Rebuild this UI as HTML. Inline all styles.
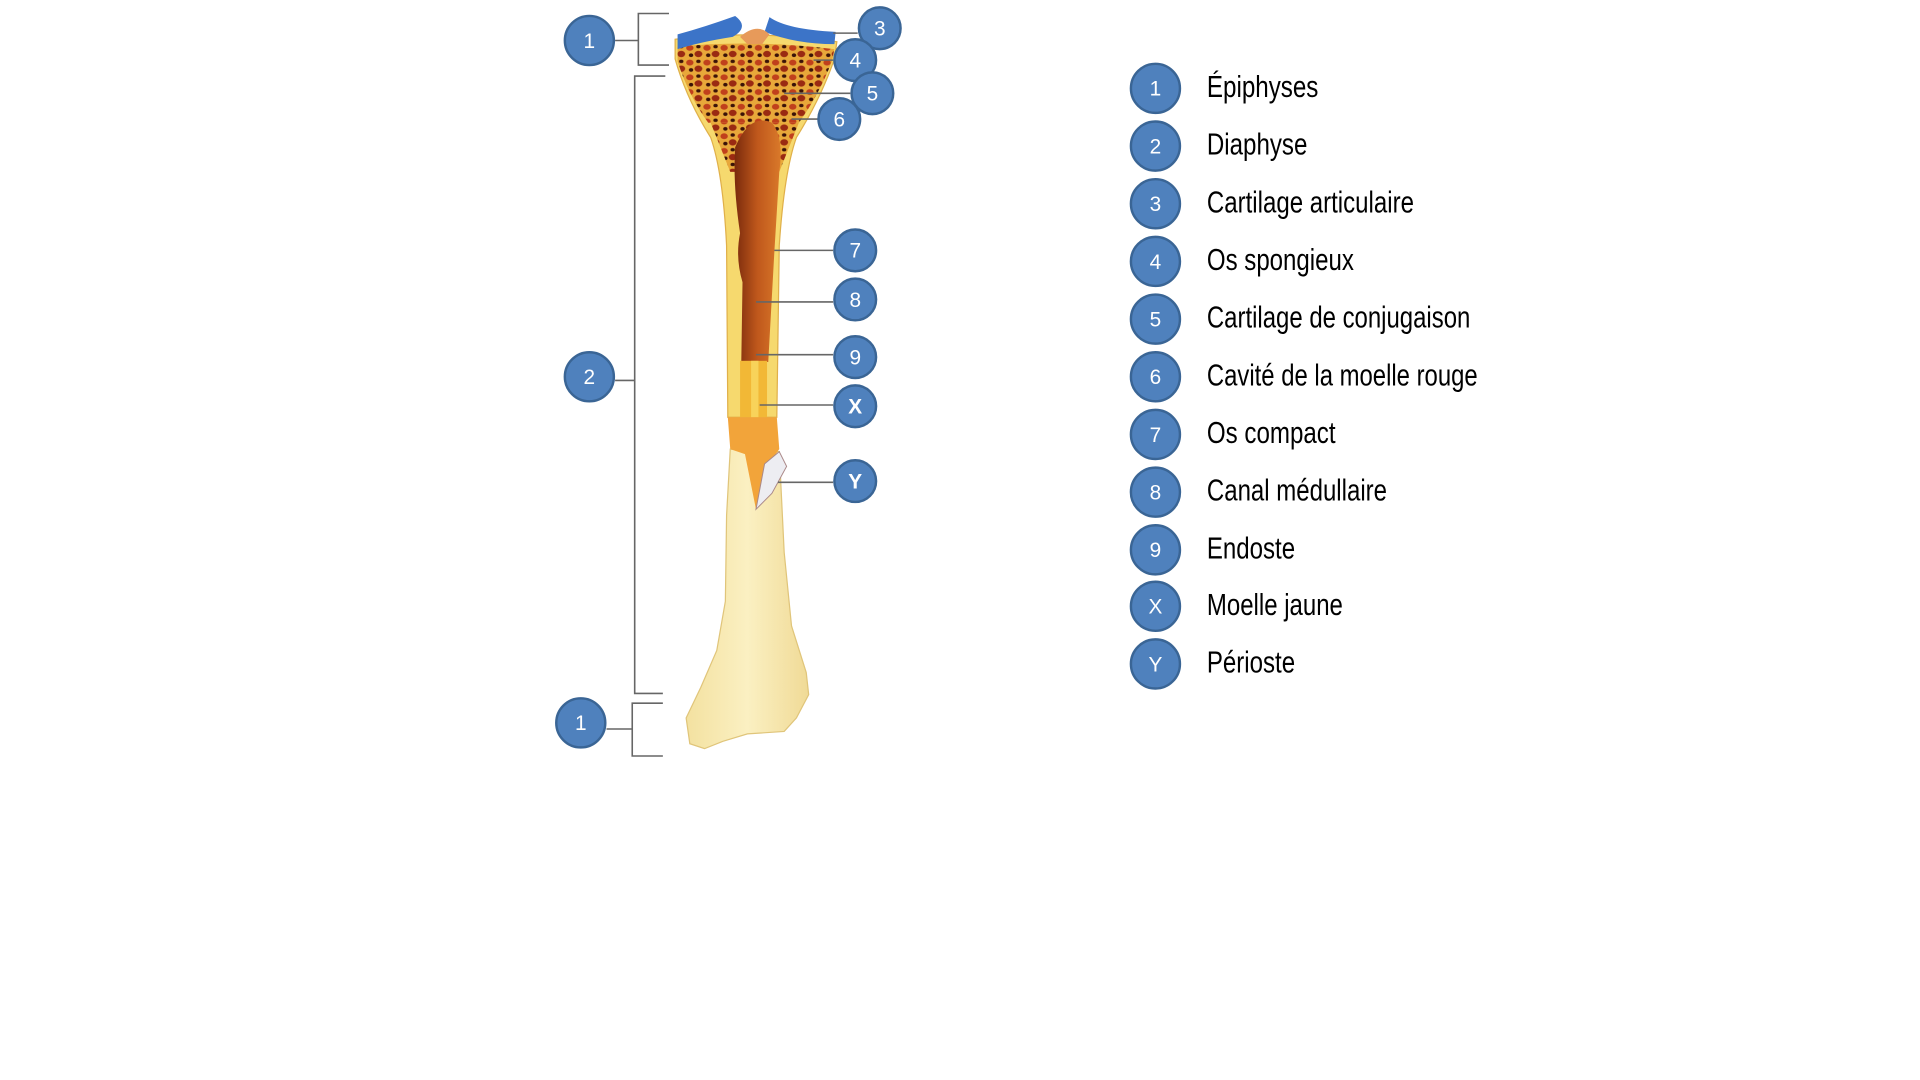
<!DOCTYPE html>
<html><head><meta charset="utf-8"><style>
html,body{margin:0;padding:0;background:#fff;width:1920px;height:1080px;overflow:hidden}
svg{display:block}
.c{fill:#4f81bd;stroke:#3a6595;stroke-width:2}
.n{fill:#fff;font-family:"Liberation Sans",sans-serif;font-size:17px;text-anchor:middle}
.l{fill:#000;font-family:"Liberation Sans",sans-serif;font-size:25px}
.ln{stroke:#666;stroke-width:1.3;fill:none}
</style></head><body>
<svg width="1920" height="1080" viewBox="0 0 1567 880" preserveAspectRatio="none" xmlns="http://www.w3.org/2000/svg">
<defs>
<pattern id="sp" width="14" height="12" patternUnits="userSpaceOnUse">
<rect width="14" height="12" fill="#e8a83a"/>
<ellipse cx="3" cy="3" rx="3" ry="2.4" fill="#c0401c"/>
<ellipse cx="10" cy="8" rx="3.2" ry="2.6" fill="#9a2a12"/>
<ellipse cx="10" cy="2" rx="1.8" ry="1.4" fill="#3a1208"/>
<ellipse cx="4" cy="9" rx="1.8" ry="1.5" fill="#3a1208"/>
</pattern>
<linearGradient id="cav" x1="0" x2="1"><stop offset="0" stop-color="#7a2a0c"/><stop offset="0.5" stop-color="#c0581c"/><stop offset="1" stop-color="#d9792a"/></linearGradient>
<linearGradient id="sh" x1="0" x2="1"><stop offset="0" stop-color="#f3e1a0"/><stop offset="0.5" stop-color="#fbf0c2"/><stop offset="1" stop-color="#f0da96"/></linearGradient>
</defs>
<path d="M596 366 L636 368 L640 450 L646 510 L658 548 L660 566 L650 585 L640 596 L610 598 L590 604 L575 610 L563 606 L560 585 L572 560 L585 530 L592 490 L593 420 Z" fill="url(#sh)" stroke="#e0c57a" stroke-width="1"/>
<path d="M551 32 Q615 24 683 34 L681 48 Q670 80 650 112 Q640 140 636 200 L634 340 L594 340 L593 200 Q590 140 580 112 Q560 80 551 48 Z" fill="#f6d96e" stroke="#e0b04a" stroke-width="1"/>
<path d="M553 38 Q615 32 681 40 L679 50 Q668 78 652 100 L578 100 Q562 78 553 50 Z" fill="url(#sp)"/>
<path d="M580 100 L652 100 Q644 120 636 140 L596 140 Q588 120 580 100Z" fill="url(#sp)"/>
<path d="M600 120 Q612 92 630 100 Q640 112 636 140 L632 205 L627 295 L605 295 L606 230 Q600 210 604 190 Q598 150 600 120 Z" fill="url(#cav)"/>
<rect x="604" y="294" width="22" height="46" fill="#f2b836"/>
<rect x="613" y="294" width="6" height="46" fill="#f8d35a"/>
<path d="M594 340 L634 340 L636 366 L626 380 L617 415 L608 370 L596 366 Z" fill="#f2a43a"/>
<path d="M617 415 L624 378 L636 368 L642 380 L630 402 Z" fill="#ededf2" stroke="#a88" stroke-width="0.8"/>
<path d="M553 28 Q575 22 600 13 Q612 22 598 30 Q572 34 553 40 Z" fill="#3c74c8"/>
<path d="M628 14 Q642 24 682 26 L681 36 Q650 36 624 26 Z" fill="#3c74c8"/>
<path d="M604 30 Q618 18 628 28 L622 36 L610 36Z" fill="#e79a5a"/>
<path class="ln" d="M546 11 H521 V53 H546 M502 33 H521"/>
<path class="ln" d="M543 62 H518 V565 H541 M502 310 H518"/>
<path class="ln" d="M541 573 H516 V616 H541 M495 594 H516"/>
<path class="ln" d="M700 27 H680 M680 49 H664 M694 76 H640 M668 97 H646 M680 204 H632 M680 246 H617 M680 289 H617 M680 330 H620 M680 393 H635"/>
<g>
<circle class="c" cx="481" cy="33" r="20"/><text class="n" x="481" y="39">1</text>
<circle class="c" cx="481" cy="307" r="20"/><text class="n" x="481" y="313">2</text>
<circle class="c" cx="474" cy="589" r="20"/><text class="n" x="474" y="595">1</text>
<circle class="c" cx="718" cy="23" r="17"/><text class="n" x="718" y="29">3</text>
<circle class="c" cx="698" cy="49" r="17"/><text class="n" x="698" y="55">4</text>
<circle class="c" cx="712" cy="76" r="17"/><text class="n" x="712" y="82">5</text>
<circle class="c" cx="685" cy="97" r="17"/><text class="n" x="685" y="103">6</text>
<circle class="c" cx="698" cy="204" r="17"/><text class="n" x="698" y="210">7</text>
<circle class="c" cx="698" cy="244" r="17"/><text class="n" x="698" y="250">8</text>
<circle class="c" cx="698" cy="291" r="17"/><text class="n" x="698" y="297">9</text>
<circle class="c" cx="698" cy="331" r="17"/><text class="n" x="698" y="337" font-weight="bold">X</text>
<circle class="c" cx="698" cy="392" r="17"/><text class="n" x="698" y="398" font-weight="bold">Y</text>
</g>
<g>
<circle class="c" cx="943" cy="72" r="20"/><text class="n" x="943" y="78">1</text><text class="l" x="985" y="79" textLength="91" lengthAdjust="spacingAndGlyphs">Épiphyses</text>
<circle class="c" cx="943" cy="119" r="20"/><text class="n" x="943" y="125">2</text><text class="l" x="985" y="126" textLength="82" lengthAdjust="spacingAndGlyphs">Diaphyse</text>
<circle class="c" cx="943" cy="166" r="20"/><text class="n" x="943" y="172">3</text><text class="l" x="985" y="173" textLength="169" lengthAdjust="spacingAndGlyphs">Cartilage articulaire</text>
<circle class="c" cx="943" cy="213" r="20"/><text class="n" x="943" y="219">4</text><text class="l" x="985" y="220" textLength="120" lengthAdjust="spacingAndGlyphs">Os spongieux</text>
<circle class="c" cx="943" cy="260" r="20"/><text class="n" x="943" y="266">5</text><text class="l" x="985" y="267" textLength="215" lengthAdjust="spacingAndGlyphs">Cartilage de conjugaison</text>
<circle class="c" cx="943" cy="307" r="20"/><text class="n" x="943" y="313">6</text><text class="l" x="985" y="314" textLength="221" lengthAdjust="spacingAndGlyphs">Cavité de la moelle rouge</text>
<circle class="c" cx="943" cy="354" r="20"/><text class="n" x="943" y="360">7</text><text class="l" x="985" y="361" textLength="105" lengthAdjust="spacingAndGlyphs">Os compact</text>
<circle class="c" cx="943" cy="401" r="20"/><text class="n" x="943" y="407">8</text><text class="l" x="985" y="408" textLength="147" lengthAdjust="spacingAndGlyphs">Canal médullaire</text>
<circle class="c" cx="943" cy="448" r="20"/><text class="n" x="943" y="454">9</text><text class="l" x="985" y="455" textLength="72" lengthAdjust="spacingAndGlyphs">Endoste</text>
<circle class="c" cx="943" cy="494" r="20"/><text class="n" x="943" y="500">X</text><text class="l" x="985" y="501" textLength="111" lengthAdjust="spacingAndGlyphs">Moelle jaune</text>
<circle class="c" cx="943" cy="541" r="20"/><text class="n" x="943" y="547">Y</text><text class="l" x="985" y="548" textLength="72" lengthAdjust="spacingAndGlyphs">Périoste</text>
</g>
</svg>
</body></html>
